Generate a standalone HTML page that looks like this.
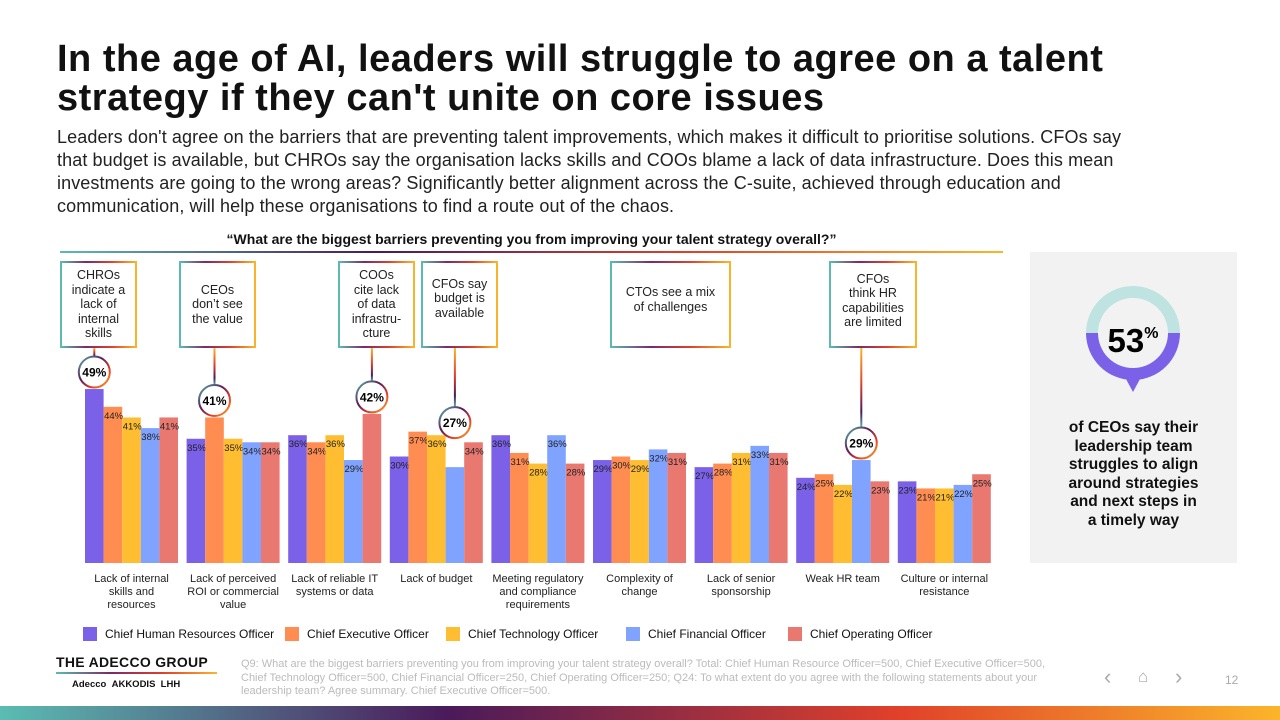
<!DOCTYPE html>
<html><head><meta charset="utf-8">
<style>
body{margin:0;width:1280px;height:720px;background:#fff;font-family:"Liberation Sans",sans-serif;position:relative;overflow:hidden;color:#111}
.abs{position:absolute}
h1{position:absolute;left:57px;top:40px;margin:0;font-size:38px;line-height:39px;font-weight:bold;letter-spacing:0.5px;width:1120px}
.sub{left:57px;top:126px;font-size:18px;line-height:23px;width:1090px;color:#222;letter-spacing:0.1px}
.call{position:absolute;box-sizing:border-box;border:2px solid;border-image:linear-gradient(90deg,#5bbcb3,#7a2a6a,#e0402a,#fbb52a) 1;background:#fff;font-size:12.5px;line-height:14.5px;text-align:center;display:flex;align-items:center;justify-content:center;color:#222}
.leg{font-size:12px;top:627px}
.leg span{display:inline-block;width:14px;height:14px;vertical-align:-3px;margin-right:8px}
</style></head><body>
<h1>In the age of AI, leaders will struggle to agree on a talent strategy if they can't unite on core issues</h1>
<div class="abs sub">Leaders don't agree on the barriers that are preventing talent improvements, which makes it difficult to prioritise solutions. CFOs say that budget is available, but CHROs say the organisation lacks skills and COOs blame a lack of data infrastructure. Does this mean investments are going to the wrong areas? Significantly better alignment across the C-suite, achieved through education and communication, will help these organisations to find a route out of the chaos.</div>
<div class="abs" style="left:60px;top:231px;width:943px;text-align:center;font-size:14px;font-weight:bold">“What are the biggest barriers preventing you from improving your talent strategy overall?”</div>
<div class="abs" style="left:60px;top:251px;width:943px;height:2px;background:linear-gradient(90deg,#5bbcb3,#4a1a5a,#e0402a,#fbb52a)"></div>

<svg class="abs" style="left:0;top:0" width="1030" height="620" id="chart">
<defs><linearGradient id="ring" x1="0" y1="0" x2="1" y2="1"><stop offset="0" stop-color="#5bbcb3"/><stop offset="0.4" stop-color="#5a1a5a"/><stop offset="0.7" stop-color="#e0402a"/><stop offset="1" stop-color="#fbb52a"/></linearGradient>
<linearGradient id="vline" x1="0" y1="0" x2="0" y2="1"><stop offset="0" stop-color="#fbb52a"/><stop offset="0.45" stop-color="#e0402a"/><stop offset="0.8" stop-color="#4a1a5a"/><stop offset="1" stop-color="#5bbcb3"/></linearGradient></defs>
</svg>

<div class="call" style="left:60px;top:261px;width:77px;height:87px">CHROs<br>indicate a<br>lack of<br>internal<br>skills</div>
<div class="call" style="left:179px;top:261px;width:77px;height:87px">CEOs<br>don’t see<br>the value</div>
<div class="call" style="left:338px;top:261px;width:77px;height:87px">COOs<br>cite lack<br>of data<br>infrastru-<br>cture</div>
<div class="call" style="left:421px;top:261px;width:77px;height:87px;padding-bottom:12px">CFOs say<br>budget is<br>available</div>
<div class="call" style="left:610px;top:261px;width:121px;height:87px;padding-bottom:10px">CTOs see a mix<br>of challenges</div>
<div class="call" style="left:829px;top:261px;width:88px;height:87px;padding-bottom:8px">CFOs<br>think HR<br>capabilities<br>are limited</div>

<div class="abs" style="left:1030px;top:252px;width:207px;height:311px;background:#f2f2f2"></div>
<svg class="abs" style="left:1070px;top:280px" width="130" height="130">
<path d="M16,53 A47,47 0 0 1 110,53 L98,53 A35,35 0 0 0 28,53 Z" fill="#bfe3e0"/>
<path d="M16,53 A47,47 0 0 0 110,53 L98,53 A35,35 0 0 1 28,53 Z" fill="#7b61e8"/>
<path d="M56,99 L63,112 L70,99 Z" fill="#7b61e8"/>
<text x="63" y="72" text-anchor="middle" font-family="Liberation Sans" font-weight="bold" font-size="33">53<tspan font-size="16" dy="-14">%</tspan></text>
</svg>
<div class="abs" style="left:1030px;top:419px;width:207px;text-align:center;font-size:15.5px;line-height:18.5px;font-weight:bold">of CEOs say their<br>leadership team<br>struggles to align<br>around strategies<br>and next steps in<br>a timely way</div>

<div class="abs leg" style="left:83px"><span style="background:#7b61e8"></span>Chief Human Resources Officer</div>
<div class="abs leg" style="left:285px"><span style="background:#ff8c50"></span>Chief Executive Officer</div>
<div class="abs leg" style="left:446px"><span style="background:#ffbe32"></span>Chief Technology Officer</div>
<div class="abs leg" style="left:626px"><span style="background:#7fa3ff"></span>Chief Financial Officer</div>
<div class="abs leg" style="left:788px"><span style="background:#e87870"></span>Chief Operating Officer</div>

<div class="abs" style="left:56px;top:654px;font-size:14px;font-weight:bold;letter-spacing:0.3px">THE ADECCO GROUP</div>
<div class="abs" style="left:56px;top:672px;width:161px;height:2px;background:linear-gradient(90deg,#5bbcb3,#7a2a6a,#e0402a,#fbb52a)"></div>
<div class="abs" style="left:72px;top:679px;font-size:9.5px;font-weight:bold">Adecco &nbsp;AKKODIS &nbsp;LHH</div>
<div class="abs" style="left:241px;top:658px;width:805px;font-size:11px;line-height:13.5px;color:#bbb">Q9: What are the biggest barriers preventing you from improving your talent strategy overall? Total: Chief Human Resource Officer=500, Chief Executive Officer=500, Chief Technology Officer=500, Chief Financial Officer=250, Chief Operating Officer=250; Q24: To what extent do you agree with the following statements about your leadership team? Agree summary. Chief Executive Officer=500.</div>
<div class="abs" style="left:1104px;top:664px;font-size:22px;color:#aaa">&#x2039;</div>
<div class="abs" style="left:1138px;top:667px;font-size:17px;color:#aaa">&#x2302;</div>
<div class="abs" style="left:1175px;top:664px;font-size:22px;color:#aaa">&#x203A;</div>
<div class="abs" style="left:1225px;top:673px;font-size:12px;color:#aaa">12</div>
<div class="abs" style="left:0;top:706px;width:1280px;height:14px;background:linear-gradient(90deg,#5bbcb3,#4a1a5a 35%,#e0402a 70%,#fbb52a)"></div>

<script>
const categories=["Lack of internal|skills and|resources","Lack of perceived|ROI or commercial|value","Lack of reliable IT|systems or data","Lack of budget","Meeting regulatory|and compliance|requirements","Complexity of|change","Lack of senior|sponsorship","Weak HR team","Culture or internal|resistance"];
const chro=[49,35,36,30,36,29,27,24,23];
const ceo=[44,41,34,37,31,30,28,25,21];
const cto=[41,35,36,36,28,29,31,22,21];
const cfo=[38,34,29,27,36,32,33,29,22];
const coo=[41,34,42,34,28,31,31,23,25];
const highlights=[[0,0],[1,1],[2,4],[3,3],[7,3]];
const series=[chro,ceo,cto,cfo,coo];
const colors=["#7b61e8","#ff8c50","#ffbe32","#7fa3ff","#e87870"];
const svg=document.getElementById('chart');
const NS="http://www.w3.org/2000/svg";
const base=563, k=3.55, x0=85, pitch=101.6, bw=18.6;
const y=v=>base-v*k;
const xb=(g,s)=>x0+g*pitch+s*bw;
function mk(t,a){const e=document.createElementNS(NS,t);for(const q in a)e.setAttribute(q,a[q]);svg.appendChild(e);return e;}
const isHi=(g,s)=>highlights.some(h=>h[0]===g&&h[1]===s);
categories.forEach((c,g)=>{
  series.forEach((arr,s)=>{
    const r=mk('rect',{x:xb(g,s),y:y(arr[g]),width:bw,height:arr[g]*k,fill:colors[s]});
    
    
    if(!isHi(g,s)){
      const t=mk('text',{x:xb(g,s)+0.5,y:y(arr[g])+12,'font-size':9.5,'font-family':'Liberation Sans',fill:'#222'});
      t.textContent=arr[g]+'%';
      
      
    }
  });
  const lines=c.split('|');
  lines.forEach((l,i)=>{
    const t=mk('text',{x:x0+g*pitch+2.5*bw,y:582+i*13,'text-anchor':'middle','font-size':11,'font-family':'Liberation Sans',fill:'#222'});
    t.textContent=l;
    
    
  });
});
highlights.forEach(([g,s])=>{
  const v=series[s][g], cx=xb(g,s)+bw/2;
  const gmax=Math.max(...series.map(a=>a[g]));
  const cy=Math.min(y(v)-17, y(gmax)-9);
  mk('rect',{x:cx-1,y:348,width:2,height:cy-15-348,fill:'url(#vline)'});
  const c=mk('circle',{cx:cx,cy:cy,r:15.5,fill:'#fff',stroke:'url(#ring)','stroke-width':2});
  
  
  const t=mk('text',{x:cx,y:cy+4.5,'text-anchor':'middle','font-size':12,'font-weight':'bold','font-family':'Liberation Sans'});
  t.textContent=v+'%';
  
  
});
</script>
</body></html>
